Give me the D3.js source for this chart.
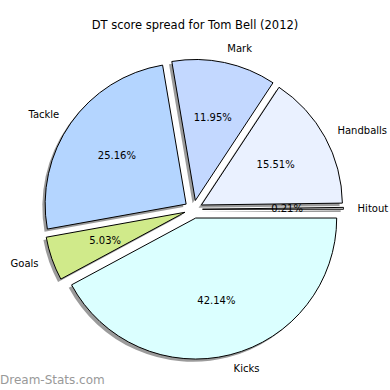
<!DOCTYPE html>
<meta charset="utf-8">
<style>
body { margin: 0; background: #fff; }
text { font-family: "DejaVu Sans", sans-serif; fill: #000; }
.wedge { stroke: #000; stroke-width: 1px; stroke-linejoin: round; }
.shadow { fill: #7a7a7a; fill-opacity: 0.75; stroke: none; }
.title { font-size: 11.5px; }
.lbl { font-size: 10px; }
.pct { font-size: 10px; }
.brand { font-size: 12px; fill: #999; }
</style>
<svg width="390" height="390"></svg>
<script src="https://d3js.org/d3.v7.min.js"></script>
<script>

// pie data, counterclockwise from east like matplotlib
const categories = ["Hitout", "Handballs", "Mark", "Tackle", "Goals", "Kicks"];
const shares = [0.21, 15.51, 11.95, 25.16, 5.03, 42.14];
const colours = ["#e8e8e8", "#eaf1ff", "#c3d8ff", "#b4d5ff", "#d0ea8a", "#dbffff"];

const CX = 193.5, CY = 209.3, R = 141;
const EXPLODE = 9;

var svg = d3.select("svg");

svg.append("text").attr("class", "title")
  .attr("x", 195).attr("y", 29)
  .attr("text-anchor", "middle")
  .text("DT score spread for Tom Bell (2012)");

var rows = categories.map(function(c, i) { return {name: c, value: shares[i], colour: colours[i]}; });

// startAngle pi/2 (east), going backwards = counterclockwise
var pie = d3.pie().sort(null).value(function(d) { return d.value; })
  .startAngle(Math.PI / 2).endAngle(Math.PI / 2 - 2 * Math.PI);

var arcs = pie(rows);
var arc = d3.arc().innerRadius(0).outerRadius(R);

function dir(d) {
  var a = (d.startAngle + d.endAngle) / 2;
  return [Math.sin(a), -Math.cos(a)];
}

arcs.forEach(function(d) {
  var u = dir(d);
  d.ox = CX + EXPLODE * u[0];
  d.oy = CY + EXPLODE * u[1];
  d.u = u;
});

// shadows first
svg.selectAll("path.shadow")
  .data(arcs)
  .enter().append("path")
    .attr("class", "shadow")
    .attr("transform", function(d) { return "translate(" + (d.ox - 2.8) + "," + (d.oy + 2.8) + ")"; })
    .attr("d", arc);

svg.selectAll("path.wedge")
  .data(arcs)
  .enter().append("path")
    .attr("class", "wedge")
    .attr("transform", function(d) { return "translate(" + d.ox + "," + d.oy + ")"; })
    .attr("d", arc)
    .style("fill", function(d) { return d.data.colour; });

// outer labels at 1.1 r
svg.selectAll("text.lbl")
  .data(arcs)
  .enter().append("text")
    .attr("class", "lbl")
    .attr("x", function(d) { return d.ox + 1.1 * R * d.u[0]; })
    .attr("y", function(d) { return d.oy + 1.1 * R * d.u[1]; })
    .attr("dy", "0.35em")
    .attr("text-anchor", function(d) { return d.u[0] > 0 ? "start" : "end"; })
    .text(function(d) { return d.data.name; });

// percentages at 0.6 r
svg.selectAll("text.pct")
  .data(arcs)
  .enter().append("text")
    .attr("class", "pct")
    .attr("x", function(d) { return d.ox + 0.6 * R * d.u[0]; })
    .attr("y", function(d) { return d.oy + 0.6 * R * d.u[1]; })
    .attr("dy", "0.35em")
    .attr("text-anchor", "middle")
    .text(function(d) { return d.data.value.toFixed(2) + "%"; });

svg.append("text").attr("class", "brand")
  .attr("x", 0).attr("y", 384)
  .text("Dream-Stats.com");
</script>
